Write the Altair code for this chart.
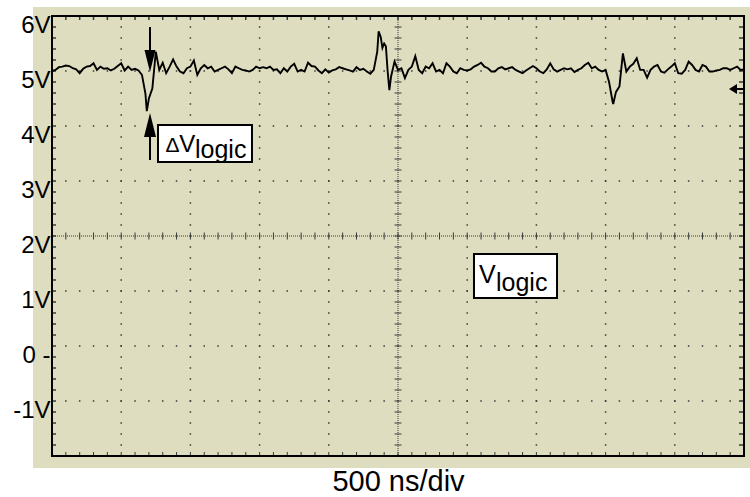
import altair as alt
import pandas as pd

# ---------------- data ----------------
SAMPLE_STEP = 0.05  # scope sample interval, in divisions (500 ns/div)

volts = [
    5.00, 5.02, 5.07, 5.08, 5.10, 5.09, 5.05, 5.03, 4.96, 5.04,
    5.08, 5.09, 5.14, 5.02, 5.08, 5.04, 5.05, 5.01, 5.04, 5.09,
    5.14, 5.01, 5.08, 5.02, 5.04, 5.01, 4.93, 4.59, 4.50, 4.68,
    5.35, 5.02, 5.15, 4.96, 5.08, 5.21, 5.08, 4.99, 4.96, 5.05,
    5.08, 5.19, 4.93, 5.05, 5.11, 5.05, 5.08, 4.99, 5.02, 5.05,
    5.08, 5.03, 4.96, 5.08, 5.05, 5.02, 5.01, 4.99, 5.02, 5.08,
    5.05, 5.07, 5.05, 5.08, 5.02, 5.03, 4.96, 5.05, 4.99, 5.08,
    5.13, 4.99, 5.02, 4.99, 5.15, 5.09, 5.08, 5.01, 4.96, 5.03,
    4.97, 5.01, 5.03, 5.07, 5.05, 5.03, 5.01, 4.99, 5.07, 5.02,
    5.04, 4.99, 4.95, 5.02, 5.35, 5.62, 5.50, 5.00, 4.90, 5.17,
    5.02, 5.05, 4.87, 5.02, 5.08, 5.27, 5.02, 4.96, 5.08, 5.05,
    5.14, 4.99, 5.02, 4.96, 5.14, 5.08, 4.99, 4.96, 5.05, 5.02,
    5.01, 5.03, 5.08, 5.11, 5.15, 5.08, 5.05, 4.99, 4.99, 5.05,
    5.07, 5.03, 5.05, 5.07, 5.02, 4.99, 4.96, 5.01, 5.05, 5.09,
    5.05, 4.99, 4.96, 5.03, 5.14, 5.03, 4.99, 5.02, 5.05, 5.03,
    5.05, 4.98, 5.02, 5.05, 5.11, 5.15, 5.05, 5.08, 5.02, 4.99,
    5.02, 4.80, 4.45, 4.62, 4.72, 5.32, 4.99, 5.08, 5.13, 5.23,
    5.02, 5.02, 4.88, 5.02, 5.08, 5.11, 4.99, 4.97, 5.03, 5.08,
    5.14, 4.96, 4.95, 5.02, 5.17, 5.11, 5.02, 4.99, 5.11, 5.08,
    4.99, 4.99, 5.01, 5.02, 5.05, 5.05, 5.02, 5.05, 5.08, 5.02, 5.03,
]
# extra points captured at the sharp glitches
glitch_time = [1.37, 4.72, 4.775, 4.825, 4.875, 8.11]
glitch_volts = [4.27, 5.72, 5.42, 5.45, 4.65, 4.40]

y_label_values = [-1, 0, 1, 2, 3, 4, 5, 6]
x_div_values = [1, 2, 3, 4, 6, 7, 8, 9]
y_div_values = [-1, 0, 1, 3, 4, 5]
x_fifths = [i / 5 for i in range(51)]
y_fifths = [-2 + i / 5 for i in range(41)]

box_x = [1.532, 6.098]
box_x2 = [2.890, 7.298]
box_y = [4.018, 1.673]
box_y2 = [3.345, 0.873]

label_text = ["Δ", "V", "logic", "V", "logic"]
label_x = [1.640, 1.840, 2.066, 6.171, 6.416]
label_y = [3.527, 3.527, 3.418, 1.145, 1.0]
label_size = [21, 24, 25, 25, 25]

shaft_x = [1.416, 1.416]
shaft_y = [5.80, 3.836]
shaft_y2 = [5.30, 3.382]
down_head = (1.416, 5.18)
up_head = (1.416, 4.018)
marker_head = (9.841, 4.673)
marker_shaft = (9.899, 10.0, 4.673)

# ---------------- tables ----------------
trace_df = pd.DataFrame({
    "x": [i * SAMPLE_STEP for i in range(len(volts))] + glitch_time,
    "y": volts + glitch_volts,
}).sort_values("x")

XS = alt.Scale(domain=[0, 10], nice=False, zero=False)
YS = alt.Scale(domain=[-2, 6], nice=False, zero=False)
FONT = "Liberation Sans"
DOT = "#3a3a3a"
BEIGE = "#DEDDC0"

X_AXIS = alt.Axis(
    values=[0, 10], labels=False, ticks=False, domain=False, grid=False, zindex=1,
    title="500 ns/div", titleFont=FONT, titleFontSize=29, titleFontWeight="normal",
    titleColor="black", titlePadding=11)
Y_AXIS = alt.Axis(
    values=y_label_values,
    labelExpr="datum.value == 0 ? '0 -' : datum.value + 'V'",
    ticks=False, tickSize=0, domain=False, grid=False, zindex=1,
    labelFont=FONT, labelFontSize=24, labelColor="black", labelPadding=2,
    labelBaseline="middle", labelOffset=9, title=None)


def X(f="x"):
    return alt.X(f"{f}:Q", scale=XS, axis=X_AXIS, title="500 ns/div")


def Y(f="y"):
    return alt.Y(f"{f}:Q", scale=YS, axis=Y_AXIS, title=None)


one = pd.DataFrame({"x": [0], "y": [0]})


def strip(x0, x1, y0, y1):
    return alt.Chart(one).mark_rect(color="white").encode(
        x=alt.value(x0), x2=alt.value(x1), y=alt.value(y0), y2=alt.value(y1))


strips = [strip(-52, -19, -16, 481), strip(-52, 698, -16, -9), strip(-52, 698, 452, 481)]

# dotted graticule: dots every 1/5 division along each division line
grid_v = alt.Chart(pd.DataFrame({"x": x_div_values})).mark_rule(
    color=DOT, strokeWidth=1.5, strokeDash=[1.5, 9.5], strokeDashOffset=0.75).encode(x=X())
grid_h = alt.Chart(pd.DataFrame({"y": y_div_values})).mark_rule(
    color=DOT, strokeWidth=1.5, strokeDash=[1.5, 12.34], strokeDashOffset=0.75).encode(y=Y())

center_h = alt.Chart(pd.DataFrame({"y": [2]})).mark_rule(
    color=DOT, strokeDash=[1, 1], strokeWidth=1).encode(y=Y())
center_v = alt.Chart(pd.DataFrame({"x": [5]})).mark_rule(
    color=DOT, strokeDash=[1, 1], strokeWidth=1).encode(x=X())

hx = pd.DataFrame({"x": x_fifths})
vy = pd.DataFrame({"y": y_fifths})

ticks_center_h = alt.Chart(hx.assign(y=2)).mark_tick(
    orient="vertical", size=7, thickness=1, color=DOT, opacity=1).encode(x=X(), y=Y())
ticks_center_v = alt.Chart(vy.assign(x=5)).mark_tick(
    orient="horizontal", size=7, thickness=1, color=DOT, opacity=1).encode(x=X(), y=Y())
ticks_bottom = alt.Chart(hx.assign(y=-2)).mark_tick(
    orient="vertical", size=4, thickness=1, color=DOT, opacity=1, yOffset=-2).encode(x=X(), y=Y())
ticks_top = alt.Chart(hx.assign(y=6)).mark_tick(
    orient="vertical", size=3, thickness=1.5, color=DOT, opacity=1, yOffset=2.5).encode(x=X(), y=Y())
ticks_left = alt.Chart(vy.assign(x=0)).mark_tick(
    orient="horizontal", size=3, thickness=1.5, color=DOT, opacity=1, xOffset=2.5).encode(x=X(), y=Y())
ticks_right = alt.Chart(vy.assign(x=10)).mark_tick(
    orient="horizontal", size=4, thickness=1.5, color=DOT, opacity=1, xOffset=-3).encode(x=X(), y=Y())

trace = alt.Chart(trace_df).mark_line(color="black", strokeWidth=1.9).encode(x=X(), y=Y())

boxes = alt.Chart(pd.DataFrame({"x": box_x, "x2": box_x2, "y": box_y, "y2": box_y2})).mark_rect(
    fill="white", stroke="black", strokeWidth=2).encode(
    x=X(), x2="x2:Q", y=Y(), y2="y2:Q")

labels = alt.Chart(pd.DataFrame({"x": label_x, "y": label_y, "text": label_text, "fs": label_size})).mark_text(
    align="left", baseline="alphabetic", font=FONT, color="black").encode(
    x=X(), y=Y(), text="text:N", size=alt.Size("fs:Q", scale=None, legend=None))

shafts = alt.Chart(pd.DataFrame({"x": shaft_x, "y": shaft_y, "y2": shaft_y2})).mark_rule(
    color="black", strokeWidth=2).encode(x=X(), y=Y(), y2="y2:Q")

head_down = alt.Chart(pd.DataFrame({"x": [down_head[0]], "y": [down_head[1]]})).mark_point(
    shape="M-0.5,-1L0.5,-1L0,1Z", size=484, filled=True, color="black", opacity=1).encode(x=X(), y=Y())
head_up = alt.Chart(pd.DataFrame({"x": [up_head[0]], "y": [up_head[1]]})).mark_point(
    shape="M-0.5,1L0.5,1L0,-1Z", size=576, filled=True, color="black", opacity=1).encode(x=X(), y=Y())
head_marker = alt.Chart(pd.DataFrame({"x": [marker_head[0]], "y": [marker_head[1]]})).mark_point(
    shape="M-0.8,0L0.8,-1L0.8,1Z", size=100, filled=True, color="black", opacity=1).encode(x=X(), y=Y())
marker_rule = alt.Chart(pd.DataFrame({"x": [marker_shaft[0]], "x2": [marker_shaft[1]], "y": [marker_shaft[2]]})).mark_rule(
    color="black", strokeWidth=2).encode(x=X(), x2="x2:Q", y=Y())

frame = alt.Chart(one).mark_rect(fillOpacity=0, stroke="black", strokeWidth=2).encode(
    x=alt.value(0), x2=alt.value(692), y=alt.value(0), y2=alt.value(440))

chart = alt.layer(
    *strips, grid_v, grid_h, center_h, center_v, ticks_center_h, ticks_center_v,
    ticks_bottom, ticks_top, ticks_left, ticks_right,
    trace, boxes, labels, shafts, head_down, head_up, head_marker, marker_rule, frame,
).properties(
    width=692, height=440,
    autosize=alt.AutoSizeParams(type="none"),
    padding={"left": 52, "top": 16, "right": 6, "bottom": 41},
    background=BEIGE,
).configure_view(stroke=None)

chart.save("out.html", embed_options={"renderer": "svg", "actions": False})
